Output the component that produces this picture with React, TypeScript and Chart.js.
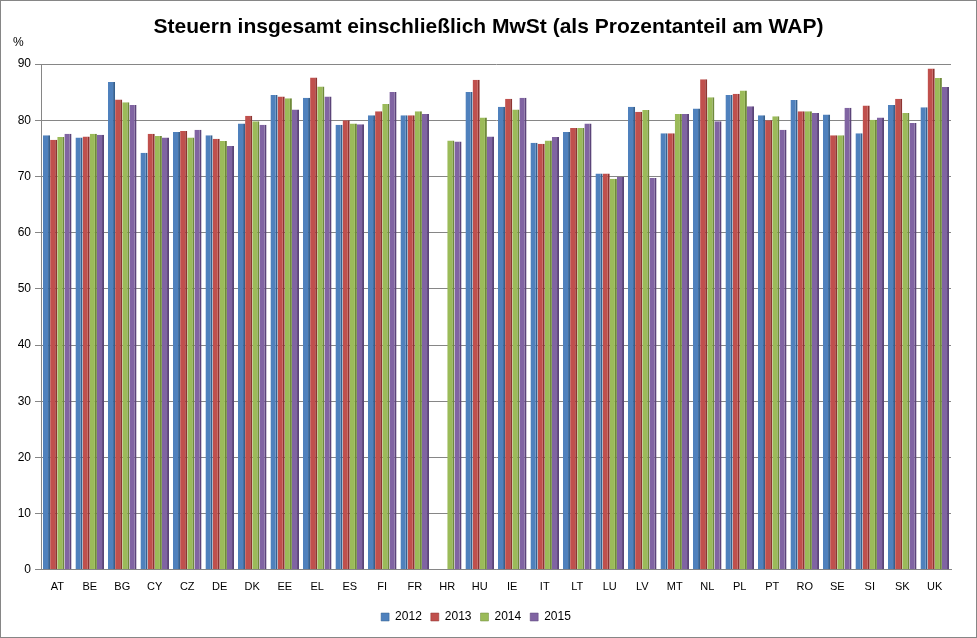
import React, { useRef, useEffect } from 'react';
import { Chart, registerables } from 'chart.js';

Chart.register(...registerables);

const categories = ['AT', 'BE', 'BG', 'CY', 'CZ', 'DE', 'DK', 'EE', 'EL', 'ES', 'FI', 'FR', 'HR', 'HU', 'IE', 'IT', 'LT', 'LU', 'LV', 'MT', 'NL', 'PL', 'PT', 'RO', 'SE', 'SI', 'SK', 'UK'];
const years = ['2012', '2013', '2014', '2015'];

const tax2012 = [77.3, 76.9, 86.8, 74.2, 77.9, 77.3, 79.4, 84.5, 84.0, 79.2, 80.9, 80.9, null, 85.0, 82.4, 76.0, 77.9, 70.5, 82.4, 77.7, 82.1, 84.5, 80.9, 83.6, 81.0, 77.7, 82.7, 82.3];
const tax2013 = [76.5, 77.1, 83.7, 77.6, 78.1, 76.7, 80.8, 84.2, 87.6, 80.0, 81.6, 80.9, null, 87.2, 83.8, 75.8, 78.6, 70.5, 81.5, 77.7, 87.3, 84.7, 80.0, 81.6, 77.3, 82.6, 83.8, 89.2];
const tax2014 = [77.0, 77.6, 83.2, 77.2, 76.9, 76.3, 79.8, 83.9, 86.0, 79.4, 82.9, 81.6, 76.4, 80.5, 81.9, 76.4, 78.6, 69.6, 81.8, 81.1, 84.1, 85.3, 80.7, 81.6, 77.3, 80.1, 81.3, 87.5];
const tax2015 = [77.6, 77.4, 82.7, 76.9, 78.3, 75.4, 79.2, 81.9, 84.2, 79.3, 85.0, 81.1, 76.2, 77.1, 84.0, 77.0, 79.4, 69.9, 69.7, 81.1, 79.8, 82.5, 78.3, 81.3, 82.2, 80.5, 79.5, 85.9];

const seriesValues = [tax2012, tax2013, tax2014, tax2015];
const fillColors = ['#4F81BD', '#C0504D', '#9BBB59', '#8064A2'];
const edgeColors = ['#35608F', '#8E3431', '#6F8A3A', '#5B4479'];

const chartTitle = 'Steuern insgesamt einschließlich MwSt (als Prozentanteil am WAP)';
const unitLabel = '%';

const textPlugin = {
  id: 'textPlugin',
  afterDraw(chart: Chart) {
    const ctx = chart.ctx;
    ctx.save();
    ctx.fillStyle = '#000';
    ctx.textBaseline = 'middle';
    ctx.textAlign = 'center';
    ctx.font = 'bold 21px "Liberation Sans", Arial, sans-serif';
    ctx.fillText(chartTitle, chart.width / 2, 26);
    ctx.textAlign = 'left';
    ctx.font = '12px "Liberation Sans", Arial, sans-serif';
    ctx.fillText(unitLabel, 12, 42);
    ctx.restore();
  },
};

const App: React.FC = () => {
  const canvasRef = useRef<HTMLCanvasElement | null>(null);
  const chartRef = useRef<Chart | null>(null);

  useEffect(() => {
    if (!canvasRef.current) return;
    if (chartRef.current) chartRef.current.destroy();

    chartRef.current = new Chart(canvasRef.current, {
      type: 'bar',
      data: {
        labels: categories,
        datasets: years.map((year, i) => ({
          label: year,
          data: seriesValues[i],
          backgroundColor: fillColors[i],
          borderColor: edgeColors[i],
          borderWidth: { top: 0, right: 2, bottom: 0, left: 0 },
          borderSkipped: false,
        })),
      },
      options: {
        animation: false,
        responsive: true,
        maintainAspectRatio: false,
        layout: { padding: { top: 63, left: 0, right: 25, bottom: 4 } },
        datasets: {
          bar: { categoryPercentage: 0.88, barPercentage: 1.0 },
        },
        scales: {
          x: {
            afterFit: (scale) => {
              scale.height = scale.height + 5;
            },
            grid: { display: false },
            border: { display: true, color: '#868686' },
            ticks: {
              autoSkip: false,
              maxRotation: 0,
              padding: 3,
              color: '#000',
              font: { family: '"Liberation Sans", Arial, sans-serif', size: 11 },
            },
          },
          y: {
            min: 0,
            max: 90,
            afterFit: (scale) => {
              scale.width = 40;
            },
            ticks: {
              stepSize: 10,
              padding: 4,
              color: '#000',
              font: { family: '"Liberation Sans", Arial, sans-serif', size: 12 },
            },
            grid: { color: '#868686', tickLength: 6 },
            border: { display: true, color: '#868686' },
          },
        },
        plugins: {
          title: { display: false },
          tooltip: { enabled: false },
          legend: {
            position: 'bottom',
            labels: {
              boxWidth: 8,
              boxHeight: 8,
              padding: 9,
              color: '#000',
              font: { family: '"Liberation Sans", Arial, sans-serif', size: 12 },
            },
          },
        },
      },
      plugins: [textPlugin],
    });

    return () => {
      if (chartRef.current) {
        chartRef.current.destroy();
        chartRef.current = null;
      }
    };
  }, []);

  return (
    <div
      style={{
        position: 'absolute',
        left: 0,
        top: 0,
        width: 977,
        height: 638,
        boxSizing: 'border-box',
        border: '1px solid #868686',
        background: '#fff',
      }}
    >
      <canvas ref={canvasRef}></canvas>
    </div>
  );
};

export default App;
